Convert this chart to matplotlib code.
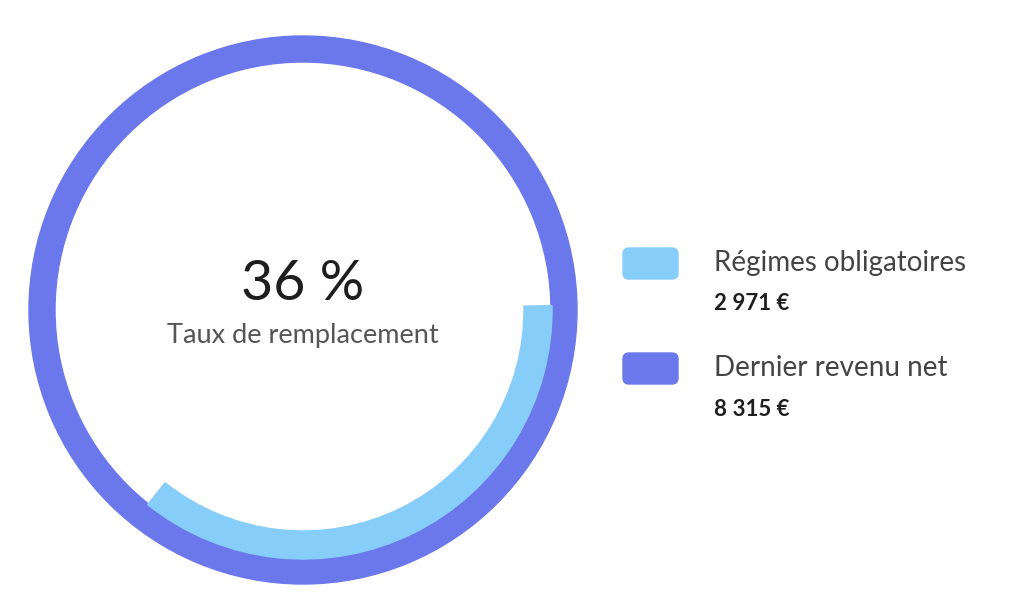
import matplotlib
matplotlib.use("Agg")
import matplotlib.pyplot as plt
from matplotlib.patches import Wedge, FancyBboxPatch

rate_pct = 36
labels = ["Régimes obligatoires", "Dernier revenu net"]
values_txt = ["2\u202f971 €", "8\u202f315 €"]
colors = ["#87CDFA", "#6A78EC"]

plt.rcParams['font.family'] = ['Lato', 'DejaVu Sans']
fig = plt.figure(figsize=(10.24, 5.94), dpi=100)
ax = fig.add_axes([0, 0, 1, 1])
ax.set_xlim(0, 1024); ax.set_ylim(594, 0); ax.set_aspect('equal'); ax.axis('off')

cx, cy = 303, 310
ax.add_patch(Wedge((cx, cy), 274, 0, 360, width=26, color=colors[1]))
span = rate_pct / 100 * 360
ax.add_patch(Wedge((cx, cy), 249, -1, span - 1, width=28, color=colors[0]))

ax.text(cx, 285, f"{rate_pct} %", ha='center', va='center', fontsize=40, color='#1e1e1e')
ax.text(cx, 335, "Taux de remplacement", ha='center', va='center', fontsize=19.5, color='#555555')

for i, (lab, val) in enumerate(zip(labels, values_txt)):
    y0 = 263 + i * 105
    ax.add_patch(FancyBboxPatch((623, y0 - 15), 55, 31, boxstyle="round,pad=0,rounding_size=6",
                                color=colors[i]))
    ax.text(714, y0, lab, ha='left', va='center', fontsize=20, color='#444444')
    ax.text(714, y0 + 41, val, ha='left', va='center', fontsize=16, fontweight='bold', color='#1e1e1e')

fig.savefig("out.png", dpi=100)
